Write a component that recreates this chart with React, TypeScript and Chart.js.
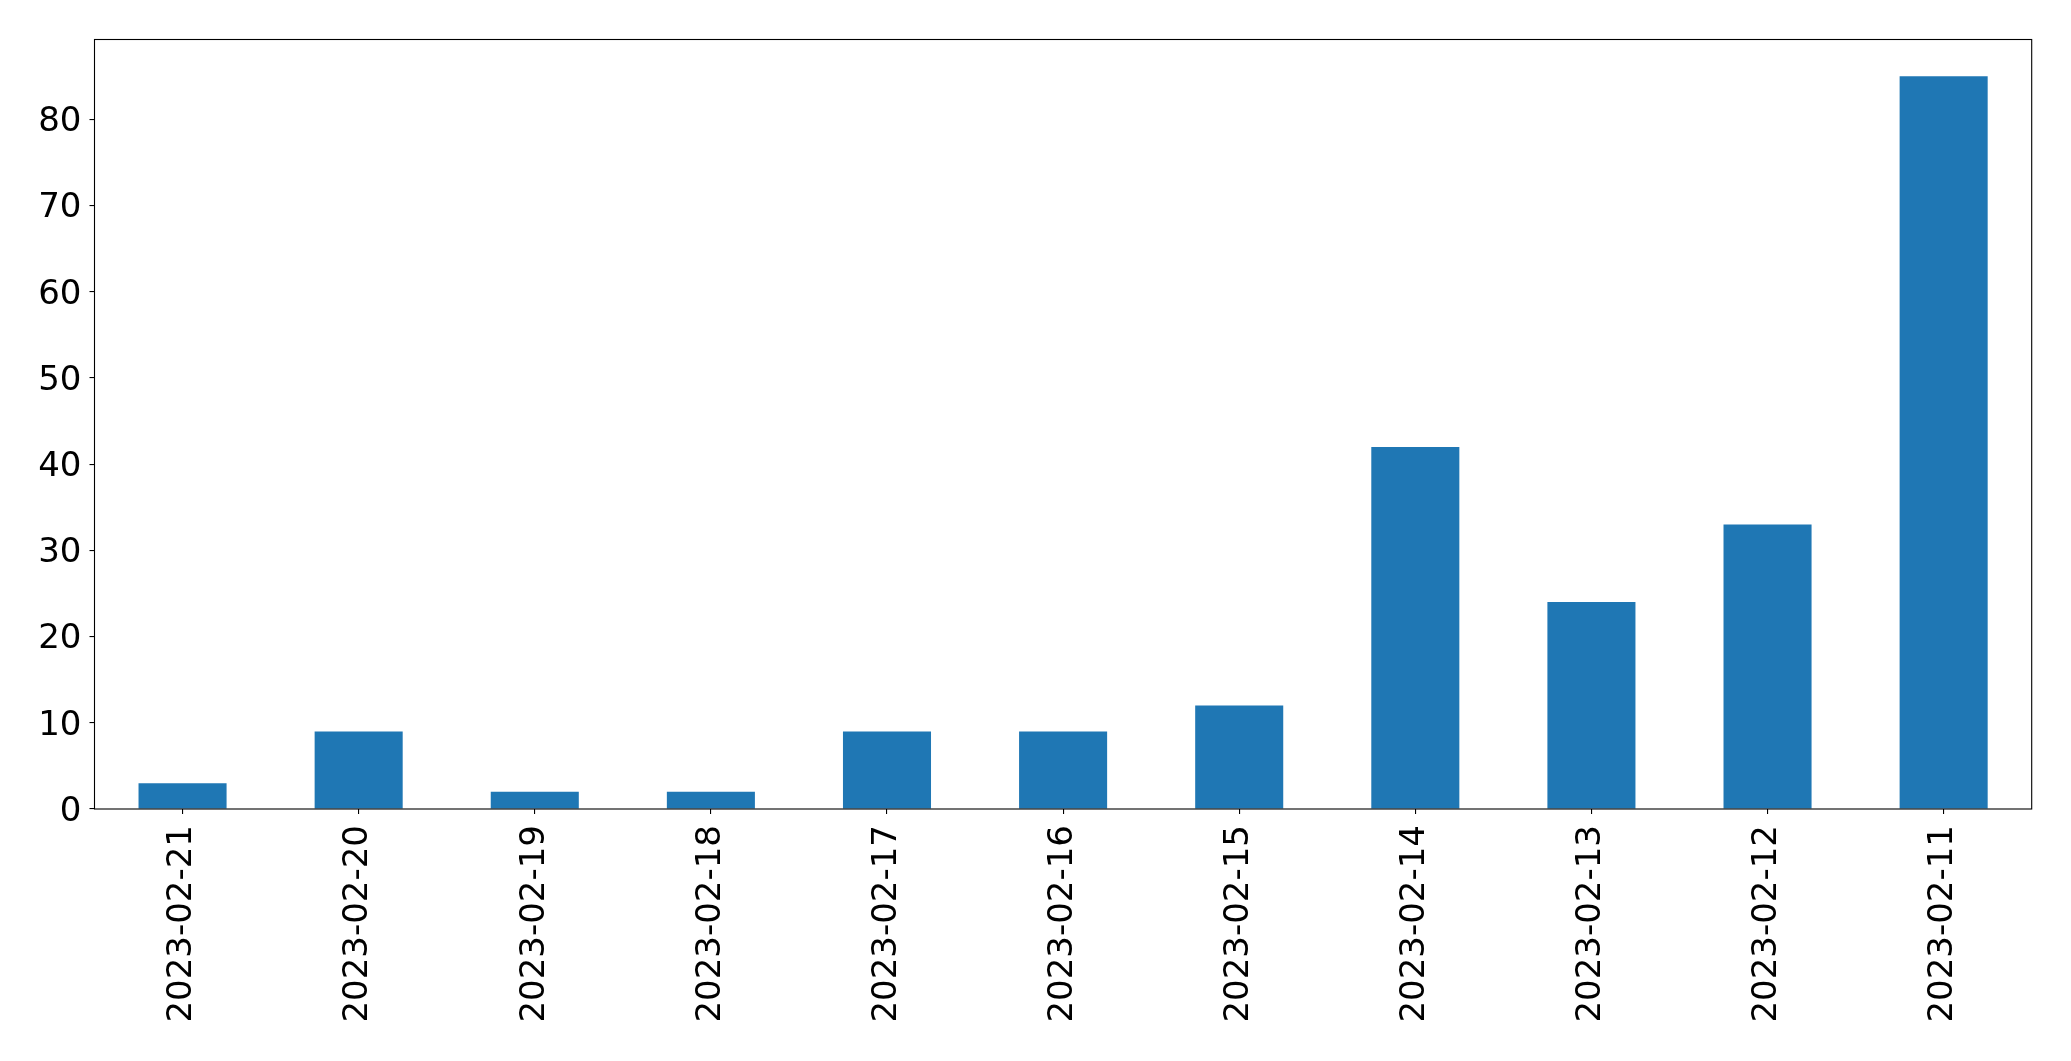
import React, { useEffect, useRef } from "react";
import { Chart, registerables } from "chart.js";

Chart.register(...registerables);

const categories = [
  "2023-02-21", "2023-02-20", "2023-02-19", "2023-02-18", "2023-02-17", "2023-02-16",
  "2023-02-15", "2023-02-14", "2023-02-13", "2023-02-12", "2023-02-11",
];
const counts = [3, 9, 2, 2, 9, 9, 12, 42, 24, 33, 85];
const yTicks = [0, 10, 20, 30, 40, 50, 60, 70, 80];
const yMax = 89.25;

const W = 2071;
const H = 1061;
const LEFT = 94.5;
const TOP = 39.5;
const RIGHT = 2031.7;
const BOTTOM = 809;

const spinePlugin = {
  id: "spines",
  afterDraw(chart: any) {
    const { ctx, chartArea } = chart;
    ctx.save();
    ctx.strokeStyle = "#000";
    ctx.lineWidth = 1.1;
    ctx.strokeRect(chartArea.left, chartArea.top, chartArea.right - chartArea.left, chartArea.bottom - chartArea.top);
    ctx.restore();
  },
};

export default function App() {
  const ref = useRef<HTMLCanvasElement | null>(null);
  useEffect(() => {
    if (!ref.current) return;
    const font = { family: "'DejaVu Sans', sans-serif", size: 34 };
    const chart = new Chart(ref.current, {
      type: "bar",
      data: {
        labels: categories,
        datasets: [
          {
            data: counts,
            backgroundColor: "#1f77b4",
            borderWidth: 0,
            barPercentage: 0.5,
            categoryPercentage: 1,
          },
        ],
      },
      options: {
        responsive: false,
        animation: false,
        devicePixelRatio: 1,
        layout: { padding: { left: 0, top: TOP, right: W - RIGHT, bottom: 0 } },
        plugins: { legend: { display: false }, tooltip: { enabled: false } },
        scales: {
          x: {
            type: "category",
            offset: true,
            border: { display: false },
            grid: {
              display: true,
              drawOnChartArea: false,
              drawTicks: true,
              tickLength: 5,
              tickColor: "#000",
              lineWidth: 1.1,
              offset: false,
            },
            ticks: {
              color: "#000",
              font,
              minRotation: 90,
              maxRotation: 90,
              autoSkip: false,
              padding: 11,
            },
            afterFit: (scale: any) => {
              scale.height = H - BOTTOM;
            },
          },
          y: {
            type: "linear",
            min: 0,
            max: yMax,
            border: { display: false },
            grid: {
              display: true,
              drawOnChartArea: false,
              drawTicks: true,
              tickLength: 5,
              tickColor: "#000",
              lineWidth: 1.1,
            },
            ticks: { color: "#000", font, padding: 8, labelOffset: 3 },
            afterBuildTicks: (scale: any) => {
              scale.ticks = yTicks.map((v) => ({ value: v }));
            },
            afterFit: (scale: any) => {
              scale.width = LEFT;
            },
          },
        },
      },
      plugins: [spinePlugin],
    });
    return () => chart.destroy();
  }, []);
  return (
    <div style={{ position: "absolute", left: 0, top: 0, width: W, height: H, background: "#fff" }}>
      <canvas ref={ref} width={W} height={H} style={{ width: W, height: H, display: "block" }} />
    </div>
  );
}
